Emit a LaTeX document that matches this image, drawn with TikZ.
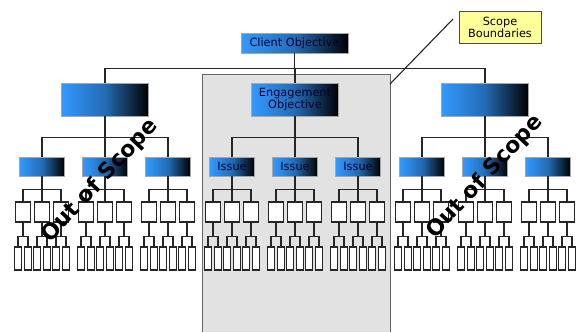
\documentclass[tikz,border=0pt]{standalone}
\usepackage{fontspec}
\setmainfont{DejaVu Sans}
\definecolor{boxblue}{HTML}{3399FF}
\definecolor{scopegrey}{HTML}{E2E2E2}
\definecolor{notebg}{HTML}{FFFF99}

\begin{document}
\begin{tikzpicture}[x=1pt, y=-1pt,
    bluebox/.style = {draw=gray!70, line width=0.6pt, left color=boxblue, right color=black, middle color=boxblue!70!black, inner sep=0pt, font=\fontsize{11.3}{12.5}\selectfont, text=black!80!blue, align=center},
    topbox/.style = {bluebox, minimum width=107pt, minimum height=20pt},
    mainbox/.style = {bluebox, minimum width=87pt, minimum height=33pt},
    issuebox/.style = {bluebox, minimum width=45pt, minimum height=19pt},
    leafbox/.style = {draw=black!85, fill=white, line width=1.3pt, minimum width=15pt, minimum height=20pt, inner sep=0pt},
    tinybox/.style = {draw=black!85, fill=white, line width=1.2pt, minimum width=7pt, minimum height=23pt, inner sep=0pt},
    notebox/.style = {draw=gray!60!black, line width=1pt, fill=notebg, minimum width=82pt, minimum height=32pt, inner sep=0pt, align=center, font=\fontsize{11.3}{12}\selectfont},
    outtext/.style = {font=\fontsize{22}{24}\selectfont\bfseries, rotate=47, inner sep=0pt},
    link/.style = {draw=black!85, line width=1.4pt}]
    \useasboundingbox (0,0) rectangle (577,332);
    \path[fill=scopegrey] (202,332) -- (202,74) -- (390,74) -- (390,332);
    \draw[gray!80!black, line width=1pt] (202,332) -- (202,74) -- (390,74) -- (390,332);
    \node[topbox] (client) at (294.5,43) {Client Objective};
    \foreach \g/\gx in {1/105, 2/295, 3/485} {
        \node[mainbox] (m\g) at (\gx,99.5) {\ifnum\g=2 Engagement\\Objective\fi};
        \draw[link] (client.south) -- ++(0,15) -| (m\g.north);
        \foreach \i/\dx in {1/-63, 2/0, 3/63} {
            \node[issuebox] (m\g-\i) at (\gx+\dx,166.5) {\ifnum\g=2 Issue\fi};
            \draw[link] (m\g.south) -- ++(0,21) -| (m\g-\i.north);
            \foreach \j/\ex in {1/-19, 2/0, 3/19} {
                \node[leafbox] (m\g-\i-\j) at (\gx+\dx+\ex,212) {};
                \draw[link] (m\g-\i.south) -- ++(0,13) -| (m\g-\i-\j.north);
                \foreach \k/\fx in {1/-5, 2/5} {
                    \node[tinybox] (m\g-\i-\j-\k) at (\gx+\dx+\ex+\fx,258.5) {};
                    \draw[link] (m\g-\i-\j.south) -- ++(0,14) -| (m\g-\i-\j-\k.north);
                }
            }
        }
    }
    \node[notebox] (scope) at (500,27) {Scope\\Boundaries};
    \coordinate (tail) at (453,19);
    \coordinate (border) at (390,84);
    \draw[link, line width=1.1pt] (tail) -- (border);
    \node[outtext] (out-left) at (100,181) {Out of Scope};
    \node[outtext] (out-right) at (485,177) {Out of Scope};
\end{tikzpicture}
\end{document}
